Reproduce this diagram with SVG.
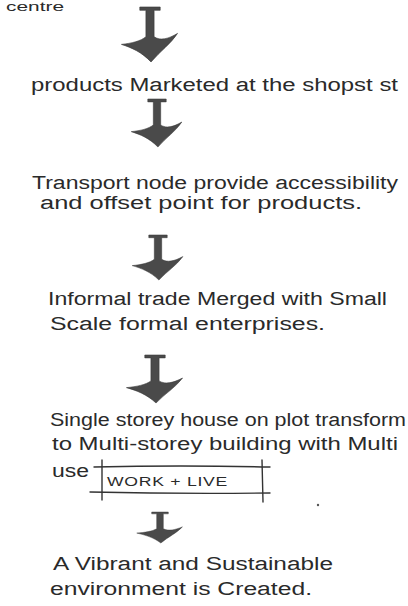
<svg xmlns="http://www.w3.org/2000/svg" xmlns:xlink="http://www.w3.org/1999/xlink" width="408" height="606" viewBox="0 0 408 606">
<style>
.t{font-family:"Liberation Sans","DejaVu Sans",sans-serif;font-size:18px;fill:#2a2a2a}
.s{font-family:"Liberation Sans","DejaVu Sans",sans-serif;font-size:12px;fill:#2a2a2a;letter-spacing:0.5px}
.arr{fill:#4a4a4a;stroke:#3a3a3a;stroke-width:0.6}
.ln{stroke:#333;stroke-width:1.4;fill:none;stroke-linecap:round}
</style>
<defs>
<symbol id="arrow" overflow="visible">
<path class="arr" d="M -10,0 H 10 V 3 H 4 V 27 C 10,31 18,29 27,24 C 20,34 10,40 1,50 C -8,41 -18,37 -28,34 C -18,33 -9,31 -4,27 V 3 H -10 Z"/>
</symbol>
</defs>
<rect width="408" height="606" fill="#ffffff"/>
<g id="connectors">
<use xlink:href="#arrow" transform="translate(150,7) scale(1.02,1.1)"/>
<use xlink:href="#arrow" transform="translate(157,99) scale(0.92,0.96)"/>
<use xlink:href="#arrow" transform="translate(158,235) scale(0.92,0.9)"/>
<use xlink:href="#arrow" transform="translate(155,355) scale(1.02,0.96)"/>
<use xlink:href="#arrow" transform="translate(160,512) scale(0.83,0.62)"/>
</g>
<g id="node0">
<text class="t" x="6" y="11" style="font-size:13px" textLength="58" lengthAdjust="spacingAndGlyphs">centre</text>
</g>
<g id="node1">
<text class="t" x="31" y="91" textLength="367" lengthAdjust="spacingAndGlyphs">products Marketed at the shopst st</text>
</g>
<g id="node2">
<text class="t" x="32" y="189" textLength="366" lengthAdjust="spacingAndGlyphs">Transport node provide accessibility</text>
<text class="t" x="40" y="209" textLength="322" lengthAdjust="spacingAndGlyphs">and offset point for products.</text>
</g>
<g id="node3">
<text class="t" x="48" y="305" textLength="339" lengthAdjust="spacingAndGlyphs">Informal trade Merged with Small</text>
<text class="t" x="50" y="330" textLength="275" lengthAdjust="spacingAndGlyphs">Scale formal enterprises.</text>
</g>
<g id="node4">
<text class="t" x="50" y="426" textLength="356" lengthAdjust="spacingAndGlyphs">Single storey house on plot transform</text>
<text class="t" x="52" y="450" textLength="346" lengthAdjust="spacingAndGlyphs">to Multi-storey building with Multi</text>
<text class="t" x="52" y="477" textLength="37" lengthAdjust="spacingAndGlyphs">use</text>
<g id="box">
<path class="ln" d="M 94,467 Q 180,465 270,467"/>
<path class="ln" d="M 90,492 Q 180,494 270,493"/>
<path class="ln" d="M 102,460 L 102,500"/>
<path class="ln" d="M 262,460 L 263,502"/>
<text class="s" x="107" y="486" textLength="121" lengthAdjust="spacingAndGlyphs">WORK + LIVE</text>
</g>
</g>
<circle cx="318" cy="505" r="1.2" fill="#555"/>
<g id="node5">
<text class="t" x="53" y="570" textLength="280" lengthAdjust="spacingAndGlyphs">A Vibrant and Sustainable</text>
<text class="t" x="50" y="595" textLength="262" lengthAdjust="spacingAndGlyphs">environment is Created.</text>
</g>
</svg>
